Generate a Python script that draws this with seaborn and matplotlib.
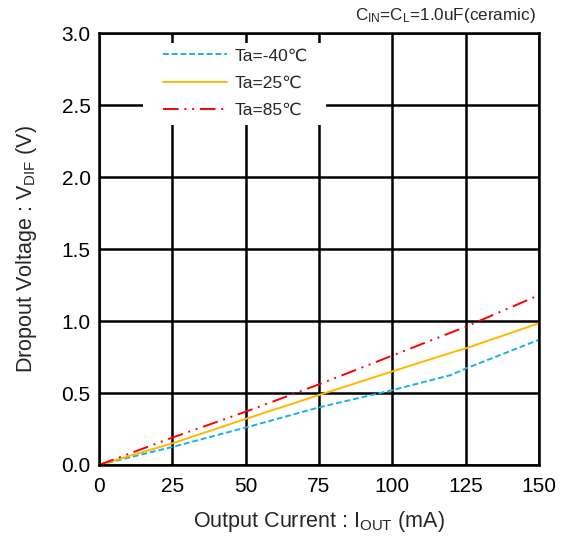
import matplotlib
matplotlib.use("Agg")
import matplotlib.pyplot as plt
import pandas as pd
import seaborn as sns
from matplotlib.patches import Rectangle

# Data
current = [0, 25, 50, 75, 100, 120, 125, 150]
v_m40 = [0.0, 0.125, 0.26, 0.40, 0.52, 0.625, 0.67, 0.87]
v_25 = [0.0, 0.15, 0.32, 0.486, 0.65, 0.78, 0.81, 0.985]
v_85 = [0.0, 0.19, 0.37, 0.56, 0.76, 0.92, 0.96, 1.18]
labels = ["Ta=-40\u2103", "Ta=25\u2103", "Ta=85\u2103"]

df = pd.DataFrame({
    "current": current * 3,
    "vdif": v_m40 + v_25 + v_85,
    "temp": [labels[0]] * len(current) + [labels[1]] * len(current) + [labels[2]] * len(current),
})

sns.set_style("white")
plt.rcParams["font.family"] = ["Liberation Sans", "DejaVu Sans"]
plt.rcParams["mathtext.fontset"] = "custom"
plt.rcParams["mathtext.rm"] = "Liberation Sans"
plt.rcParams["mathtext.it"] = "Liberation Sans"

fig = plt.figure(figsize=(5.62, 5.36), dpi=100)
ax = fig.add_axes([0.176, 0.1325, 0.783, 0.8055])

palette = {labels[0]: "#1ab0e8", labels[1]: "#ffb800", labels[2]: "#ff0000"}
sns.lineplot(data=df, x="current", y="vdif", hue="temp", palette=palette,
             linewidth=1.4, ax=ax, legend=True)
styles = [(0, (3, 1.5)), "-", (0, (8, 3, 1, 3, 1, 3))]
for line, ls in zip(ax.get_lines(), styles):
    line.set_linestyle(ls)

ax.set_xlim(0, 150)
ax.set_ylim(0, 3.0)
ax.set_xticks([0, 25, 50, 75, 100, 125, 150])
ax.set_yticks([0.0, 0.5, 1.0, 1.5, 2.0, 2.5, 3.0])
ax.set_yticklabels(["0.0", "0.5", "1.0", "1.5", "2.0", "2.5", "3.0"])
ax.grid(True, color="black", linewidth=1.8)
ax.set_axisbelow(True)
for s in ax.spines.values():
    s.set_color("black")
    s.set_linewidth(1.8)
ax.tick_params(length=0, labelsize=15, colors="black")
ax.tick_params(axis="x", pad=9)
ax.tick_params(axis="y", pad=6)

ax.set_xlabel("Output Current : I$_{\\mathrm{OUT}}$ (mA)", fontsize=15.5, labelpad=9)
ax.set_ylabel("Dropout Voltage : V$_{\\mathrm{DIF}}$ (V)", fontsize=15.5, labelpad=16)

# white patch behind the legend that hides the grid
ax.add_patch(Rectangle((0.1, 0.787), 0.416, 0.19, transform=ax.transAxes,
                       facecolor="white", edgecolor="none", zorder=1.5))

handles, _ = ax.get_legend_handles_labels()
for h, ls in zip(handles, styles):
    h.set_linestyle(ls)
leg = ax.legend(handles=handles, labels=labels, loc="upper left",
                bbox_to_anchor=(0.134, 0.977), fontsize=12.5, handlelength=3.7,
                frameon=False, borderpad=0.3, labelspacing=0.7, handletextpad=0.4,
                borderaxespad=0)

fig.text(0.954, 0.972, "C$_{\\mathrm{IN}}$=C$_{\\mathrm{L}}$=1.0uF(ceramic)",
         ha="right", va="center", fontsize=12.3)

fig.savefig("out.png", dpi=100)
